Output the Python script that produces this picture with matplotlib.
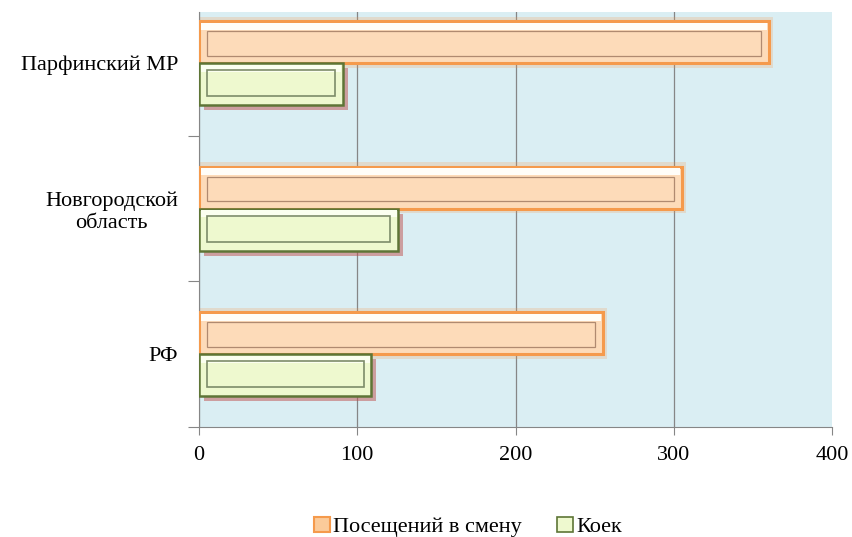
import matplotlib
matplotlib.use("Agg")
import matplotlib.pyplot as plt
from matplotlib.patches import Patch
import numpy as np

categories = ["РФ", "Новгородской\nобласть", "Парфинский МР"]
visits = [255, 305, 360]
beds = [109, 126, 91]
series_names = ["Посещений в смену", "Коек"]
xticks = [0, 100, 200, 300, 400]

plt.rcParams['font.family'] = ['Liberation Serif', 'DejaVu Serif']

fig = plt.figure(figsize=(8.52, 5.37), dpi=100)
W, H = 852, 537
ax = fig.add_axes([199 / W, (H - 427) / H, (832 - 199) / W, (427 - 12) / H])
ax.set_facecolor('#DAEEF3')

y = np.arange(len(categories))
h = 0.289
yo = y + h / 2
yg = y - h / 2

# glow / shadow layers
ax.barh(yo, np.array(visits) + 3, height=h + 0.06, color='#F79646', alpha=0.22, lw=0, zorder=2)
ax.barh(yg - 0.035, beds, height=h, left=3, color='#C0504D', alpha=0.5, lw=0, zorder=2)

# main bars
ax.barh(yo, visits, height=h, color='#FDDBB9', edgecolor='#F59A4C', lw=2.2, zorder=3)
ax.barh(yg, beds, height=h, color='#EEF9CF', edgecolor='#5E7536', lw=1.8, zorder=3)

# bevel highlight strips and inner outlines
vis = np.array(visits, dtype=float)
bed = np.array(beds, dtype=float)
ax.barh(yo + h * 0.38, vis - 2, height=h * 0.16, left=1, color='#FFFDF8', lw=0, zorder=4)
ax.barh(yg + h * 0.38, bed - 2, height=h * 0.16, left=1, color='#FBFFF0', lw=0, zorder=4)
ax.barh(yo - h * 0.03, vis - 10, height=h * 0.58, left=5, facecolor='none',
        edgecolor='#B08A70', lw=0.9, zorder=5)
ax.barh(yg + h * 0.02, bed - 10, height=h * 0.62, left=5, facecolor='none',
        edgecolor='#7D8C6A', lw=1.2, zorder=5)

ax.set_xlim(0, 400)
ax.set_ylim(-0.5, 2.352)
ax.set_xticks(xticks)
ax.set_xticklabels([str(v) for v in xticks], fontsize=16)
ax.tick_params(axis='x', length=6, color='#868686', pad=8)

ax.set_yticks([-0.5, 0.5, 1.5])
ax.set_yticklabels([])
ax.tick_params(axis='y', which='major', length=8, color='#868686')
ax.set_yticks(y, minor=True)
ax.set_yticklabels(categories, minor=True, fontsize=16, multialignment='center')
ax.tick_params(axis='y', which='minor', length=0, pad=15)

ax.grid(axis='x', color='#868686', lw=0.9, zorder=1)
gl = ax.get_xgridlines()
gl[-1].set_visible(False)
ax.set_axisbelow(True)
for s in ['top', 'right']:
    ax.spines[s].set_visible(False)
for s in ['left', 'bottom']:
    ax.spines[s].set_color('#868686')

handles = [Patch(facecolor='#FBCB9A', edgecolor='#F59A4C', lw=1.5, label=series_names[0]),
           Patch(facecolor='#EEF9CF', edgecolor='#5E7536', lw=1.2, label=series_names[1])]
fig.legend(handles=handles, loc='center', bbox_to_anchor=(468 / W, (H - 527) / H),
           ncol=2, frameon=False, fontsize=16, handlelength=0.7, handleheight=0.7,
           handletextpad=0.15, columnspacing=1.6)

fig.savefig("out.png", dpi=100)
